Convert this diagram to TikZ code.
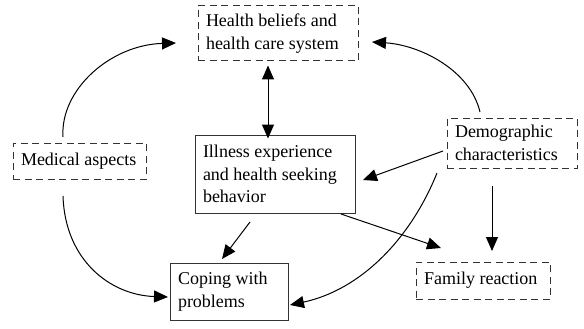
\documentclass[tikz,border=0pt]{standalone}
\usepackage{fontspec}
\setmainfont{Liberation Serif}
\usetikzlibrary{arrows.meta}
\hyphenpenalty=10000
\begin{document}
\begin{tikzpicture}[x=1pt,y=-1pt,
  box/.style={draw=black!80, line width=1pt, inner xsep=8pt, inner ysep=2pt, align=flush left, font=\fontsize{18}{22.5}\selectfont, anchor=center},
  dbox/.style={box, dash pattern=on 7pt off 4.5pt},
  arr/.style={-{Triangle[length=14pt,width=12pt]}, line width=1pt},
  darr/.style={{Triangle[length=14pt,width=12pt]}-{Triangle[length=14pt,width=12pt]}, line width=1pt}]
\useasboundingbox (0,0) rectangle (584,329);
\node[dbox, text width=144pt, minimum height=55pt] (hb) at (278,33.5) {Health beliefs and\\health care system};
\node[dbox, text width=117pt, minimum height=36pt] (ma) at (79.5,161) {Medical aspects};
\node[box, text width=144pt, minimum height=78pt] (ie) at (275,174) {Illness experience\\and health seeking\\behavior};
\node[box, text width=102pt, minimum height=57pt] (cp) at (229,291.5) {Coping with\\problems};
\node[dbox, text width=114pt, minimum height=50pt] (dc) at (512,143) {Demographic\\characteristics};
\node[dbox, text width=118pt, minimum height=37pt] (fr) at (483,280.5) {Family reaction};
\coordinate (hbL) at (176,43);
\coordinate (hbR) at (372,42);
\coordinate (cpL) at (168,297);
\draw[arr] (63,137) .. controls (60,90) and (110,45) .. (hbL);
\draw[arr] (480,112) .. controls (470,70) and (420,45) .. (hbR);
\draw[darr] (hb.south -| 268,0) ++(0,4) -- ([yshift=-4pt]ie.north -| 268,0);
\draw[arr] (443,151) -- (363,180);
\draw[arr] (437,173) .. controls (410,240) and (360,290) .. (290,305);
\draw[arr] (492,186) -- (492,251);
\draw[arr] (250,222) -- (222,259);
\draw[arr] (341,214) -- (441,248);
\draw[arr] (63,196) .. controls (65,260) and (110,295) .. (cpL);
\end{tikzpicture}
\end{document}
